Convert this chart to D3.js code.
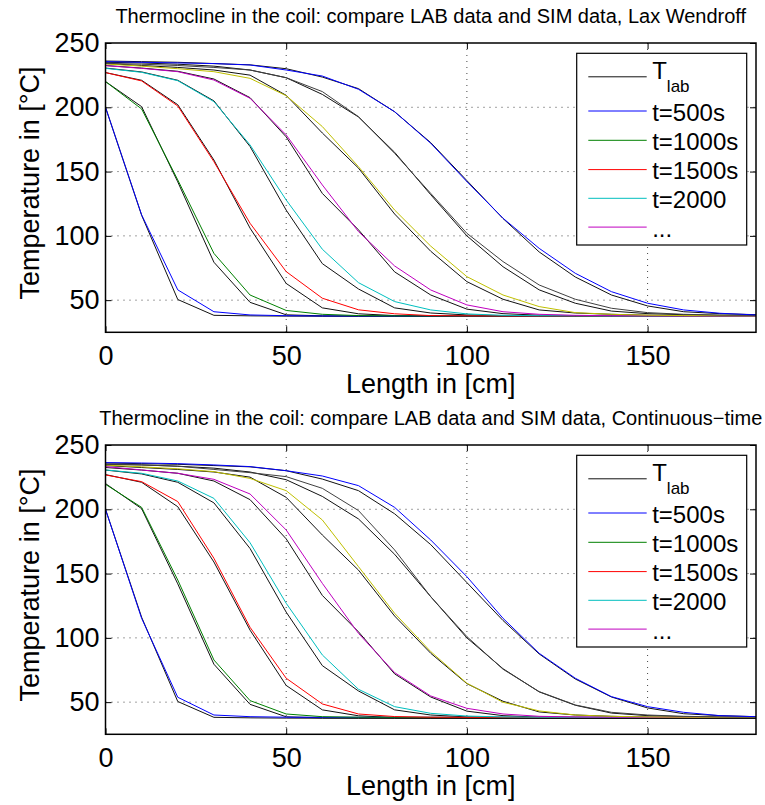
<!DOCTYPE html>
<html>
<head>
<meta charset="utf-8">
<script src="https://cdn.jsdelivr.net/npm/d3@7"></script>
<style>
  body { margin: 0; background: #fff; }
  text { font-family: "Liberation Sans", Arial, Helvetica, sans-serif; }
</style>
</head>
<body>
<svg id="chart" width="765" height="805"></svg>
<script>
// positions along the coil, cm
const lengths = [0, 10, 20, 30, 40, 50, 60, 70, 80, 90, 100, 110, 120, 130, 140, 150, 160, 170, 180]

// measured thermocline (same lab run in both panels)
const labCurves = [
  [200, 116, 50.5, 38.2, 37.8, 37.6, 37.5, 37.5, 37.5, 37.5, 37.5, 37.5, 37.5, 37.5, 37.5, 37.5, 37.5, 37.5, 37.5],
  [220, 200.5, 142, 79.5, 48.3, 38.6, 37.8, 37.6, 37.5, 37.5, 37.5, 37.5, 37.5, 37.5, 37.5, 37.5, 37.5, 37.5, 37.5],
  [227, 221, 202, 159, 106, 63, 44, 39.4, 38, 37.7, 37.6, 37.5, 37.5, 37.5, 37.5, 37.5, 37.5, 37.5, 37.5],
  [230.5, 227.5, 221, 205, 169.5, 120, 78.4, 58.7, 44, 40, 38.5, 38, 37.8, 37.6, 37.5, 37.5, 37.5, 37.5, 37.5],
  [232.5, 230.5, 228, 222, 207.5, 177, 133, 104.7, 72, 54, 43, 39.5, 38.3, 38, 37.8, 37.6, 37.5, 37.5, 37.5],
  [234, 232.5, 231, 229, 225, 209.3, 180, 152.7, 117, 88, 64.4, 50.7, 42.4, 40, 39, 38.3, 38, 37.8, 37.6],
  [235, 234.5, 233.5, 232, 229, 223, 210, 192.5, 165, 132, 100, 76, 58, 47.6, 41.5, 39.5, 38.7, 38.2, 38],
  [236, 235.5, 235, 234, 233, 230, 223.5, 214.5, 196.5, 172.5, 143, 113.5, 87.5, 68, 54, 45.5, 41, 39.5, 38.7]
]

// simulated, Lax Wendroff
const laxCurves = [
  [200, 116.3, 58, 41, 38.5, 37.9, 37.7, 37.7, 37.7, 37.7, 37.7, 37.7, 37.7, 37.7, 37.7, 37.7, 37.7, 37.7, 37.7],
  [220, 198.7, 143.5, 86.4, 54, 42, 39, 38, 37.8, 37.7, 37.7, 37.7, 37.7, 37.7, 37.7, 37.7, 37.7, 37.7, 37.7],
  [227, 220.5, 201, 157.7, 109.8, 72.2, 51.5, 42.5, 39.4, 38, 37.8, 37.7, 37.7, 37.7, 37.7, 37.7, 37.7, 37.7, 37.7],
  [230.3, 227.2, 220.7, 204.4, 170.7, 127.9, 89.6, 63.6, 48.9, 42.4, 39.3, 38.2, 37.9, 37.8, 37.7, 37.7, 37.7, 37.7, 37.7],
  [232.4, 230.3, 227.7, 221.2, 207, 178.5, 139.6, 103.3, 76.6, 57.9, 46.3, 41, 39, 38.2, 37.9, 37.8, 37.7, 37.7, 37.7],
  [233.7, 232, 230, 227.7, 222.5, 209, 185, 153.8, 120.1, 92, 68.3, 54, 45, 40.3, 39, 38.3, 38, 37.9, 37.8],
  [234.2, 233.5, 232.5, 231, 229, 223, 212.2, 192.7, 164.2, 133, 102, 80, 61.8, 50.7, 43.7, 40.3, 39, 38.4, 38.1],
  [235.5, 235, 234.5, 234, 232.9, 229, 224.3, 214, 196.6, 172, 142.2, 113.7, 90.3, 70.9, 56.6, 47.6, 42.4, 39.8, 38.5]
]

// simulated, continuous-time
const ctCurves = [
  [200, 115.2, 53.8, 40, 38.7, 38.3, 38.2, 38.2, 38.2, 38.2, 38.2, 38.2, 38.2, 38.2, 38.2, 38.2, 38.2, 38.2, 38.2],
  [219.4, 201.5, 145, 82.8, 51.2, 40.8, 38.7, 38.3, 38.2, 38.2, 38.2, 38.2, 38.2, 38.2, 38.2, 38.2, 38.2, 38.2, 38.2],
  [226.7, 221.5, 206, 161.9, 108.2, 68.6, 48.6, 40.8, 38.8, 38.3, 38.2, 38.2, 38.2, 38.2, 38.2, 38.2, 38.2, 38.2, 38.2],
  [230.6, 228, 222, 208.5, 174, 126.9, 86.7, 60, 46.5, 41.3, 39.2, 38.5, 38.3, 38.2, 38.2, 38.2, 38.2, 38.2, 38.2],
  [233.2, 230.6, 228, 223.3, 211.9, 183.9, 142.4, 103.5, 73, 54.8, 45.2, 40.8, 39, 38.5, 38.3, 38.2, 38.2, 38.2, 38.2],
  [234.4, 233, 231.5, 229.3, 224, 214.5, 191.7, 155.4, 119.1, 89.3, 64.7, 49.9, 43.2, 40, 39, 38.5, 38.3, 38.2, 38.2],
  [235, 234.5, 233.5, 231, 228.5, 225.4, 216.3, 199, 168.4, 132, 101, 75.6, 58.2, 47.8, 42.1, 40, 39, 38.5, 38.3],
  [236.3, 236, 235.5, 234.5, 233.2, 230, 225.9, 218.4, 201.5, 176.1, 147.6, 115.2, 88, 68.6, 54.3, 46.5, 42.1, 39.5, 38.7]
]

// matlab's old default color order, wraps after 7
const simColors = ['#0000ff', '#008000', '#ff0000', '#00bfbf', '#bf00bf', '#bfbf00', '#404040', '#0000ff']
const legendLabels = ['t=500s', 't=1000s', 't=1500s', 't=2000', '...']
const xTicks = [0, 50, 100, 150]
const yTicks = [50, 100, 150, 200, 250]

const titles = [
  'Thermocline in the coil: compare LAB data and SIM data, Lax Wendroff',
  'Thermocline in the coil: compare LAB data and SIM data, Continuous\u2212time'
]

const svg = d3.select('#chart')
const left = 105.5, right = 756
const panelTop = [43, 445]
const panelH = 289.3

function drawPanel(top, title, simCurves) {
  const x = d3.scaleLinear().domain([0, 180]).range([left, right])
  const y = d3.scaleLinear().domain([25, 250]).range([top + panelH, top])
  const g = svg.append('g')

  // dotted grid
  g.selectAll('.vgrid').data(xTicks.slice(1)).enter().append('line')
    .attr('x1', d => x(d)).attr('x2', d => x(d))
    .attr('y1', top).attr('y2', top + panelH)
    .style('stroke', '#444').style('stroke-dasharray', '1,5').style('stroke-width', 1)
  g.selectAll('.hgrid').data(yTicks.slice(0, -1)).enter().append('line')
    .attr('x1', left).attr('x2', right)
    .attr('y1', d => y(d)).attr('y2', d => y(d))
    .style('stroke', '#444').style('stroke-dasharray', '1,5').style('stroke-width', 1)

  const line = d3.line().x((d, i) => x(lengths[i])).y(d => y(d))

  g.selectAll('.lab').data(labCurves).enter().append('path')
    .attr('d', line)
    .style('fill', 'none').style('stroke', '#111').style('stroke-width', 1)
  g.selectAll('.sim').data(simCurves).enter().append('path')
    .attr('d', line)
    .style('fill', 'none').style('stroke', (d, i) => simColors[i]).style('stroke-width', 1)

  // axes, ticks inward on all four sides
  const ax = [
    d3.axisBottom(x).tickValues(xTicks).tickSize(-6).tickPadding(14),
    d3.axisTop(x).tickValues(xTicks).tickSize(-6).tickFormat(''),
    d3.axisLeft(y).tickValues(yTicks).tickSize(-6).tickPadding(6),
    d3.axisRight(y).tickValues(yTicks).tickSize(-6).tickFormat('')
  ]
  const pos = [
    `translate(0,${top + panelH})`, `translate(0,${top})`,
    `translate(${left},0)`, `translate(${right},0)`
  ]
  ax.forEach((a, i) => {
    const axg = g.append('g').attr('transform', pos[i]).call(a)
    axg.select('.domain').remove()
    axg.selectAll('line').style('stroke', '#000')
    axg.selectAll('text').style('font-size', '27px').style('fill', '#000')
      .style('font-family', '"Liberation Sans", Arial, sans-serif')
  })

  g.append('rect')
    .attr('x', left).attr('y', top).attr('width', right - left).attr('height', panelH)
    .style('fill', 'none').style('stroke', '#000').style('stroke-width', 1.5)

  g.append('text')
    .attr('x', (left + right) / 2).attr('y', top - 20)
    .attr('text-anchor', 'middle')
    .style('font-size', '20px')
    .text(title)

  g.append('text')
    .attr('x', (left + right) / 2).attr('y', top + panelH + 60.5)
    .attr('text-anchor', 'middle')
    .style('font-size', '27px')
    .text('Length in [cm]')

  g.append('text')
    .attr('transform', `translate(39,${top + 140}) rotate(-90)`)
    .attr('text-anchor', 'middle')
    .style('font-size', '27px')
    .text('Temperature in [\u00b0C]')

  // legend
  const lx = 576.7, ly = top + 10.3
  const lg = g.append('g')
  lg.append('rect')
    .attr('x', lx).attr('y', ly).attr('width', 170).attr('height', 191.7)
    .style('fill', '#fff').style('stroke', '#000').style('stroke-width', 1.2)

  const rowY = [23.5, 57.7, 87, 116.3, 145, 173.8]
  lg.append('line')
    .attr('x1', lx + 11.6).attr('x2', lx + 70).attr('y1', ly + rowY[0]).attr('y2', ly + rowY[0])
    .style('stroke', '#111').style('stroke-width', 1)
  const tl = lg.append('text').attr('x', lx + 75.5).attr('y', ly + rowY[0] + 2.6)
    .style('font-size', '24px').text('T')
  tl.append('tspan').attr('dy', 12.4).style('font-size', '17px').text('lab')

  legendLabels.forEach((lab, i) => {
    const yy = ly + rowY[i + 1]
    lg.append('line')
      .attr('x1', lx + 11.6).attr('x2', lx + 70).attr('y1', yy).attr('y2', yy)
      .style('stroke', simColors[i]).style('stroke-width', 1)
    lg.append('text').attr('x', lx + 75.5).attr('y', yy + 9.7)
      .style('font-size', '24px').text(lab)
  })
}

drawPanel(panelTop[0], titles[0], laxCurves)
drawPanel(panelTop[1], titles[1], ctCurves)
</script>
</body>
</html>
